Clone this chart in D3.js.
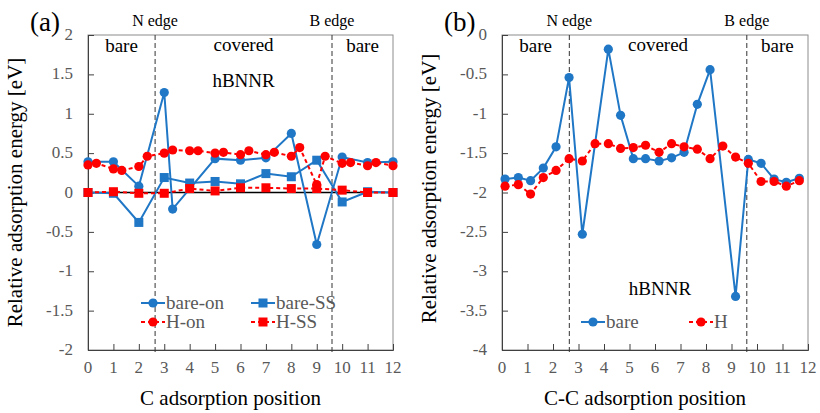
<!DOCTYPE html>
<html><head><meta charset="utf-8">
<script src="https://cdn.jsdelivr.net/npm/d3@7"></script>
<style>body{margin:0;background:#fff}svg{display:block}</style>
</head><body><svg id="c" width="820" height="413"></svg>
<script>
// ---- data (a) ----
const xTicks = [0,1,2,3,4,5,6,7,8,9,10,11,12];
const yTicksA = [2,1.5,1,0.5,0,-0.5,-1,-1.5,-2];
const bareOnX = [0,1,2,3,3.33,5,6,7,8,9,10,11,12];
const bareOnY = [0.39,0.39,0.08,1.27,-0.21,0.43,0.41,0.44,0.75,-0.66,0.45,0.38,0.39];
const bareSSX = [0,1,2,3,4,5,6,7,8,9,10,11,12];
const bareSSY = [0.0,-0.01,-0.38,0.19,0.12,0.14,0.11,0.24,0.20,0.41,-0.12,0.01,0.0];
const hOnX = [0,0.33,1,1.33,2,2.33,3,3.33,4,4.33,5,5.33,6,6.33,7,7.33,8,8.33,9,9.33,10,10.33,11,11.33,12];
const hOnY = [0.35,0.37,0.30,0.28,0.33,0.46,0.50,0.54,0.53,0.53,0.50,0.51,0.48,0.53,0.48,0.51,0.46,0.57,0.10,0.46,0.37,0.38,0.34,0.38,0.34];
const hSSX = [0,1,2,3,4,5,6,7,8,9,10,11,12];
const hSSY = [0.0,0.01,-0.01,-0.01,0.05,0.02,0.06,0.06,0.05,0.05,0.03,0.0,0.0];
// ---- data (b) ----
const yTicksB = [0,-0.5,-1,-1.5,-2,-2.5,-3,-3.5,-4];
const ccBareX = [0.12,0.64,1.12,1.62,2.12,2.63,3.15,4.17,4.65,5.15,5.63,6.16,6.65,7.14,7.66,8.16,9.16,9.66,10.16,10.67,11.15,11.66];
const ccBareY = [-1.83,-1.81,-1.85,-1.69,-1.42,-0.54,-2.53,-0.18,-1.02,-1.57,-1.57,-1.60,-1.56,-1.49,-0.88,-0.44,-3.32,-1.58,-1.63,-1.83,-1.87,-1.82];
const ccHX = [0.12,0.64,1.12,1.62,2.12,2.63,3.15,3.65,4.17,4.65,5.15,5.63,6.16,6.65,7.14,7.66,8.16,8.66,9.16,9.66,10.16,10.67,11.15,11.66];
const ccHY = [-1.92,-1.90,-2.02,-1.81,-1.72,-1.57,-1.60,-1.38,-1.38,-1.44,-1.43,-1.40,-1.49,-1.38,-1.42,-1.45,-1.57,-1.41,-1.55,-1.63,-1.86,-1.86,-1.92,-1.85];
const edgeN = 2.64, edgeB = 9.6;

const FONT = "Liberation Serif";
const BLUE = "#1f77c6", RED = "#ff0000", GREY = "#595959";
const svg = d3.select("#c");
const zip = (xs, ys) => xs.map((x, i) => [x, ys[i]]);
function txt(g, x, y, s, size, anchor) {
  return g.append("text").attr("x", x).attr("y", y).attr("font-family", FONT).attr("font-size", size)
    .attr("text-anchor", anchor || "start").attr("fill", "#000").text(s);
}

function panel(o) {
  const g = svg.append("g");
  const x = d3.scaleLinear().domain([0, 12]).range([o.left, o.right]);
  const y = d3.scaleLinear().domain(o.ydom).range([o.top, o.bottom]);
  g.append("rect").attr("x", o.left).attr("y", o.top).attr("width", o.right - o.left).attr("height", o.bottom - o.top)
    .attr("fill", "none").attr("stroke", "#8c8c8c").attr("stroke-width", 1);
  const ax = g.append("g").attr("transform", `translate(0,${o.bottom})`)
    .call(d3.axisTop(x).tickValues(xTicks).tickSize(6).tickFormat(""));
  ax.select(".domain").attr("stroke", "#404040");
  ax.selectAll(".tick line").attr("stroke", "#404040");
  const ay = g.append("g").attr("transform", `translate(${o.left},0)`)
    .call(d3.axisRight(y).tickValues(o.yticks).tickSize(6).tickFormat(""));
  ay.select(".domain").attr("stroke", "#404040");
  ay.selectAll(".tick line").attr("stroke", "#404040");
  xTicks.forEach(d => txt(g, x(d), o.bottom + 23, d, 17, "middle").attr("fill", GREY));
  o.yticks.forEach(d => txt(g, o.left - 15, y(d) + 5, d, 17, "end").attr("fill", GREY));
  [edgeN, edgeB].forEach(e => {
    g.append("line").attr("x1", x(e)).attr("x2", x(e)).attr("y1", o.top).attr("y2", o.bottom + 4)
      .attr("stroke", "#333").attr("stroke-width", 1).attr("stroke-dasharray", "5,3");
  });
  txt(g, x(edgeN), 26, "N edge", 16, "middle");
  txt(g, x(edgeB), 26, "B edge", 16, "middle");
  txt(g, x(edgeN / 2), 52, "bare", 19, "middle");
  txt(g, x((edgeN + edgeB) / 2), 51, "covered", 19, "middle");
  txt(g, x((edgeB + 12) / 2), 52, "bare", 19, "middle");
  txt(g, 0, 0, "Relative adsorption energy [eV]", 21, "middle")
    .attr("transform", `translate(${o.left - 66},${(o.top + o.bottom) / 2 - o.tshift}) rotate(-90)`);
  txt(g, (o.left + o.right) / 2 - 10, 405, o.xtitle, 21, "middle");
  txt(g, o.left - 58, 31, o.tag, 27);
  return { g, x, y };
}

function series(p, pts, color, dashed, shape) {
  const line = d3.line().x(d => p.x(d[0])).y(d => p.y(d[1]));
  p.g.append("path").datum(pts).attr("d", line).attr("fill", "none").attr("stroke", color)
    .attr("stroke-width", 2).attr("stroke-dasharray", dashed ? "4,3" : null);
  if (shape === "circle") {
    p.g.selectAll(null).data(pts).join("circle").attr("cx", d => p.x(d[0])).attr("cy", d => p.y(d[1])).attr("r", 4.6).attr("fill", color);
  } else {
    p.g.selectAll(null).data(pts).join("rect").attr("x", d => p.x(d[0]) - 4.5).attr("y", d => p.y(d[1]) - 4.5)
      .attr("width", 9).attr("height", 9).attr("fill", color);
  }
}

function legendItem(g, x0, yy, color, dashed, shape, label) {
  g.append("line").attr("x1", x0).attr("x2", x0 + 24).attr("y1", yy).attr("y2", yy).attr("stroke", color)
    .attr("stroke-width", 2).attr("stroke-dasharray", dashed ? "4,3" : null);
  if (shape === "circle") g.append("circle").attr("cx", x0 + 12).attr("cy", yy).attr("r", 4.6).attr("fill", color);
  else g.append("rect").attr("x", x0 + 7.5).attr("y", yy - 4.5).attr("width", 9).attr("height", 9).attr("fill", color);
  txt(g, x0 + 25, yy + 6, label, 19).attr("fill", GREY);
}

const A = panel({ left: 88, right: 393, top: 35, bottom: 350, ydom: [2, -2], yticks: yTicksA, xtitle: "C adsorption position", tag: "(a)", tshift: 0 });
A.g.append("line").attr("x1", 88).attr("x2", 393).attr("y1", A.y(0)).attr("y2", A.y(0)).attr("stroke", "#000").attr("stroke-width", 1.3);
series(A, zip(bareOnX, bareOnY), BLUE, false, "circle");
series(A, zip(bareSSX, bareSSY), BLUE, false, "rect");
series(A, zip(hSSX, hSSY), RED, true, "rect");
series(A, zip(hOnX, hOnY), RED, true, "circle");
txt(A.g, A.x((edgeN + edgeB) / 2), 87, "hBNNR", 19, "middle");
legendItem(A.g, 141, 303, BLUE, false, "circle", "bare-on");
legendItem(A.g, 251, 303, BLUE, false, "rect", "bare-SS");
legendItem(A.g, 141, 322, RED, true, "circle", "H-on");
legendItem(A.g, 251, 322, RED, true, "rect", "H-SS");

const B = panel({ left: 502, right: 808, top: 35, bottom: 350, ydom: [0, -4], yticks: yTicksB, xtitle: "C-C adsorption position", tag: "(b)", tshift: 4 });
series(B, zip(ccBareX, ccBareY), BLUE, false, "circle");
series(B, zip(ccHX, ccHY), RED, true, "circle");
txt(B.g, 660, 295, "hBNNR", 19, "middle");
legendItem(B.g, 581, 322, BLUE, false, "circle", "bare");
legendItem(B.g, 689, 322, RED, true, "circle", "H");
</script></body></html>
